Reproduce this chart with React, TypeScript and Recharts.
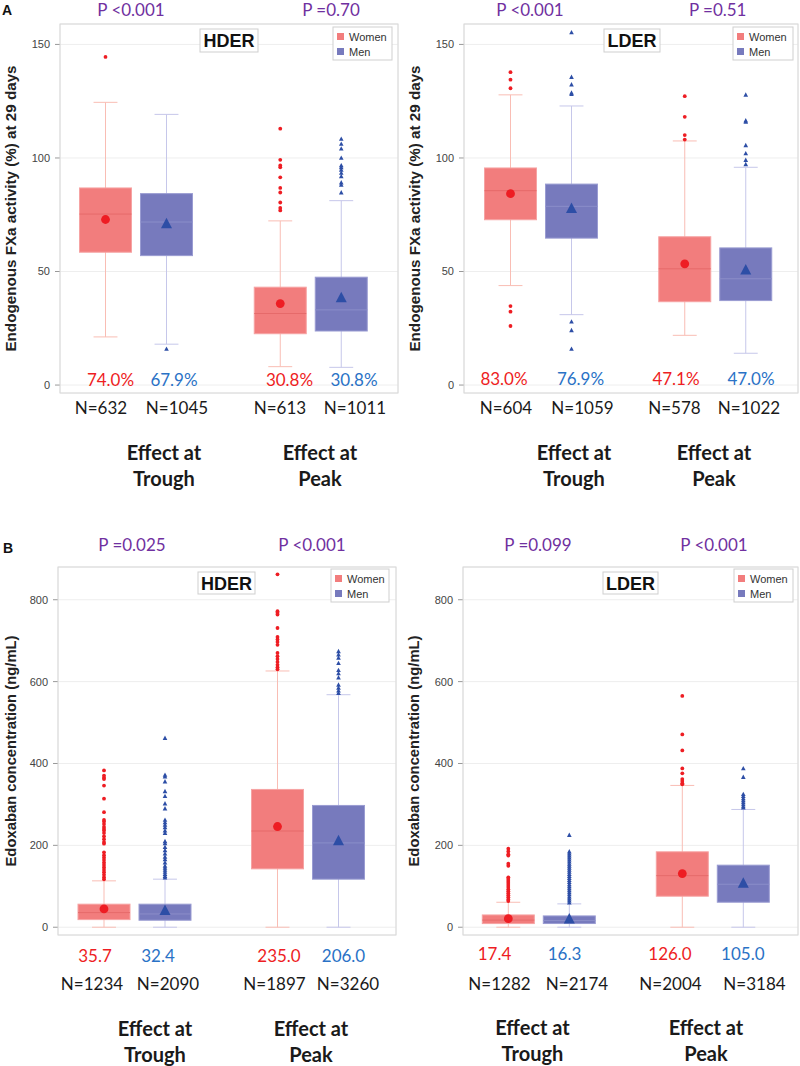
import React from 'react';
import { ComposedChart, Bar, XAxis, YAxis, CartesianGrid } from 'recharts';

const categories = ['Trough', 'Peak'];

// box summaries per category: [low whisker, Q1, median, Q3, high whisker]
const fxaHderWomen = [[21.2, 58.5, 75.3, 86.8, 124.5], [8.1, 22.6, 31.5, 43.1, 72.3]];
const fxaHderMen = [[18.0, 57.0, 71.8, 84.3, 119.2], [7.8, 23.8, 33.1, 47.5, 81.2]];
const fxaHderWomenMean = [72.9, 35.9];
const fxaHderMenMean = [71.0, 38.5];
const fxaHderWomenOut = [[144.5], [112.9, 99.2, 96.7, 95.9, 91.5, 86.8, 84.8, 80.4, 78.0, 76.9]];
const fxaHderMenOut = [[15.9], [108.4, 106.2, 104.1, 100.0, 96.7, 95.9, 94.8, 93.4, 91.9, 89.2, 88.2, 84.8]];

const fxaLderWomen = [[43.8, 72.8, 85.6, 95.6, 127.8], [21.9, 36.7, 51.2, 65.3, 107.5]];
const fxaLderMen = [[31.0, 64.7, 78.7, 88.5, 122.9], [14.0, 37.2, 46.8, 60.4, 95.9]];
const fxaLderWomenMean = [84.3, 53.4];
const fxaLderMenMean = [77.8, 50.7];
const fxaLderWomenOut = [[137.8, 134.5, 130.7, 34.8, 32.3, 26.0], [127.2, 118.1, 110.1, 108.1]];
const fxaLderMenOut = [[155.3, 135.6, 132.3, 128.7, 128.1, 27.9, 24.1, 15.9], [127.8, 116.5, 115.9, 105.6, 102.0, 99.1, 97.2]];

const edoHderWomen = [[0, 18.6, 35.7, 56.3, 113.3], [0, 142.6, 235.0, 336.6, 626]];
const edoHderMen = [[0, 17.1, 32.4, 56.3, 117.4], [0, 117.4, 206.0, 297.5, 568]];
const edoHderWomenMean = [44.8, 246];
const edoHderMenMean = [40.6, 211];
const edoHderWomenOut = [
  [383, 370, 365, 362, 346, 314, 281, 262, 258, 252, 245, 240, 236, 230, 222, 215, 208, 204, 183, 176, 170, 164, 158, 152, 146, 140, 134, 128, 122, 117],
  [862, 772, 768, 764, 731, 709, 703, 697, 690, 670, 662, 655, 648, 641, 635, 630],
];
const edoHderMenOut = [
  [462, 372, 368, 356, 332, 320, 302, 290, 262, 256, 250, 244, 236, 230, 210, 205, 196, 188, 180, 172, 166, 158, 150, 145, 140, 135, 130, 125, 121],
  [674, 666, 658, 645, 628, 620, 610, 592, 585, 578, 572],
];

const edoLderWomen = [[0, 8.9, 17.4, 30, 61], [0, 75.8, 126.0, 184.2, 346.4]];
const edoLderMen = [[0, 9, 16.3, 27.6, 57], [0, 61.1, 105.0, 151.6, 287.7]];
const edoLderWomenMean = [21, 131];
const edoLderMenMean = [20, 107.6];
const edoLderWomenOut = [
  [192, 185, 178, 175, 155, 150, 122, 118, 113, 108, 103, 98, 93, 88, 83, 78, 73, 68, 64],
  [565, 471, 432, 388, 376, 362, 357, 352, 349],
];
const edoLderMenOut = [
  [225, 185, 180, 175, 170, 165, 160, 155, 150, 145, 140, 135, 130, 125, 120, 115, 110, 105, 100, 95, 90, 85, 80, 75, 70, 65, 60],
  [388, 367, 325, 320, 315, 310, 305, 300, 295, 292],
];

const fxaTicks = [0, 50, 100, 150];
const edoTicks = [0, 200, 400, 600, 800];

// labels: women trough, men trough, women peak, men peak
const fxaHderPct = ['74.0%', '67.9%', '30.8%', '30.8%'];
const fxaLderPct = ['83.0%', '76.9%', '47.1%', '47.0%'];
const edoHderMedian = ['35.7', '32.4', '235.0', '206.0'];
const edoLderMedian = ['17.4', '16.3', '126.0', '105.0'];
const fxaHderN = ['N=632', 'N=1045', 'N=613', 'N=1011'];
const fxaLderN = ['N=604', 'N=1059', 'N=578', 'N=1022'];
const edoHderN = ['N=1234', 'N=2090', 'N=1897', 'N=3260'];
const edoLderN = ['N=1282', 'N=2174', 'N=2004', 'N=3184'];
const fxaHderP = ['P <0.001', 'P =0.70'];
const fxaLderP = ['P <0.001', 'P =0.51'];
const edoHderP = ['P =0.025', 'P <0.001'];
const edoLderP = ['P =0.099', 'P <0.001'];

const fxaLabel = 'Endogenous FXa activity (%) at 29 days';
const edoLabel = 'Edoxaban concentration (ng/mL)';

const WOMEN = { box: '#f27d7d', edge: '#f6a3a3', med: '#e66a6a', whisk: '#f9bdb4', dot: '#ee1d23' };
const MEN = { box: '#777abd', edge: '#9a9cd2', med: '#8b8ec9', whisk: '#c6c7ea', dot: '#2d4ea6' };

function buildRows(wS, wMean, wOut, mS, mMean, mOut) {
  return categories.map((cat, i) => ({
    cat,
    w: { s: wS[i], mean: wMean[i], out: wOut[i] },
    m: { s: mS[i], mean: mMean[i], out: mOut[i] },
    wRange: [wS[i][0], wS[i][4]],
    mRange: [mS[i][0], mS[i][4]],
  }));
}

function BoxGlyph(props: any) {
  const { x, y, width, height, payload, sex } = props;
  const d = payload[sex];
  const c = sex === 'w' ? WOMEN : MEN;
  const [lo, q1, med, q3, hi] = d.s;
  const top = height >= 0 ? y : y + height;
  const h = Math.abs(height);
  const py = (v: number) => top + (h * (hi - v)) / (hi - lo);
  const cx = x + width / 2;
  const cap = width * 0.23;
  const tri = (cy: number, s: number) =>
    `${cx},${cy - s * 0.6} ${cx - s * 0.55},${cy + s * 0.45} ${cx + s * 0.55},${cy + s * 0.45}`;
  return (
    <g>
      <line x1={cx} x2={cx} y1={py(hi)} y2={py(lo)} stroke={c.whisk} strokeWidth={1} />
      <line x1={cx - cap} x2={cx + cap} y1={py(hi)} y2={py(hi)} stroke={c.whisk} strokeWidth={1} />
      <line x1={cx - cap} x2={cx + cap} y1={py(lo)} y2={py(lo)} stroke={c.whisk} strokeWidth={1} />
      <rect x={x} y={py(q3)} width={width} height={py(q1) - py(q3)} fill={c.box} stroke={c.edge} strokeWidth={1} />
      <line x1={x} x2={x + width} y1={py(med)} y2={py(med)} stroke={c.med} strokeWidth={1} />
      {d.out.map((v: number, k: number) =>
        sex === 'w' ? (
          <circle key={k} cx={cx} cy={py(v)} r={1.9} fill={c.dot} />
        ) : (
          <polygon key={k} points={tri(py(v), 4.2)} fill={c.dot} />
        )
      )}
      {sex === 'w' ? (
        <circle cx={cx} cy={py(d.mean)} r={4.4} fill={c.dot} />
      ) : (
        <polygon points={tri(py(d.mean), 10)} fill={c.dot} />
      )}
    </g>
  );
}

const panels = [
  {
    id: 'aH', left: 0, top: 0, plot: { l: 60, r: 398, t: 24, b: 393 }, pad: { left: -11.5, right: 0 },
    domain: [-3.5, 159], ticks: fxaTicks, yLabel: fxaLabel, yLabelX: 10, yLabelSize: 15.2,
    rows: buildRows(fxaHderWomen, fxaHderWomenMean, fxaHderWomenOut, fxaHderMen, fxaHderMenMean, fxaHderMenOut),
    title: 'HDER', titleBox: [200, 29, 58, 23], legend: [333, 27, 59, 33],
    p: fxaHderP, pX: [131, 331], pY: 15.5,
    vals: fxaHderPct, valX: [110.5, 174, 289.5, 354], valY: 386,
    ns: fxaHderN, nX: [101, 177, 280, 355], nY: 414,
    effX: [164, 320], effY: 460,
  },
  {
    id: 'aL', left: 400, top: 0, plot: { l: 464, r: 798, t: 24, b: 393 }, pad: { left: -10.5, right: -4 },
    domain: [-3.5, 159], ticks: fxaTicks, yLabel: fxaLabel, yLabelX: 413.5, yLabelSize: 15.2,
    rows: buildRows(fxaLderWomen, fxaLderWomenMean, fxaLderWomenOut, fxaLderMen, fxaLderMenMean, fxaLderMenOut),
    title: 'LDER', titleBox: [604, 29, 56, 23], legend: [733, 27, 60, 33],
    p: fxaLderP, pX: [530, 717.7], pY: 15.5,
    vals: fxaLderPct, valX: [504, 580.5, 676, 751], valY: 385,
    ns: fxaLderN, nX: [506, 582.5, 674.5, 749], nY: 414,
    effX: [574, 714], effY: 460,
  },
  {
    id: 'bH', left: 0, top: 540, plot: { l: 58, r: 396, t: 567, b: 935 }, pad: { left: -10, right: 1 },
    domain: [-19, 880], ticks: edoTicks, yLabel: edoLabel, yLabelX: 10, yLabelSize: 14.8,
    rows: buildRows(edoHderWomen, edoHderWomenMean, edoHderWomenOut, edoHderMen, edoHderMenMean, edoHderMenOut),
    title: 'HDER', titleBox: [198, 572, 57, 22], legend: [331, 569, 58, 33],
    p: edoHderP, pX: [132, 312], pY: 551,
    vals: edoHderMedian, valX: [95, 158, 279, 343.5], valY: 962,
    ns: edoHderN, nX: [92, 168, 274.5, 348], nY: 990,
    effX: [155, 311], effY: 1036,
  },
  {
    id: 'bL', left: 400, top: 540, plot: { l: 463, r: 798, t: 567, b: 935 }, pad: { left: -11.7, right: -1.3 },
    domain: [-19, 880], ticks: edoTicks, yLabel: edoLabel, yLabelX: 413, yLabelSize: 14.8,
    rows: buildRows(edoLderWomen, edoLderWomenMean, edoLderWomenOut, edoLderMen, edoLderMenMean, edoLderMenOut),
    title: 'LDER', titleBox: [603, 572, 55, 22], legend: [734, 569, 59, 33],
    p: edoLderP, pX: [538, 714], pY: 551,
    vals: edoLderMedian, valX: [494.5, 564.5, 670, 742.8], valY: 960,
    ns: edoLderN, nX: [499.5, 577, 670.5, 754.5], nY: 989.5,
    effX: [532.5, 706], effY: 1035,
  },
];

const CAL = 'Lato, "Open Sans", sans-serif';
const ARIAL = '"Liberation Sans", Arial, sans-serif';

function PanelChart({ pn }: any) {
  const W = 400;
  const H = 400;
  return (
    <div style={{ position: 'absolute', left: pn.left, top: pn.top, width: W, height: H }}>
      <ComposedChart
        width={W}
        height={H}
        data={pn.rows}
        barSize={52}
        barGap={9}
        margin={{ top: pn.plot.t - pn.top, bottom: pn.top + H - pn.plot.b, left: 0, right: pn.left + W - pn.plot.r }}
      >
        <CartesianGrid stroke="#eeeeee" />
        <XAxis dataKey="cat" height={0} tick={false} tickLine={false} axisLine={false} padding={pn.pad} />
        <YAxis
          type="number"
          width={pn.plot.l - pn.left}
          domain={pn.domain}
          ticks={pn.ticks}
          allowDataOverflow
          axisLine={false}
          tickSize={5}
          tickMargin={5}
          tickLine={{ stroke: '#999' }}
          tick={{ fontSize: 11, fill: '#444', fontFamily: ARIAL }}
        />
        <Bar dataKey="wRange" isAnimationActive={false} shape={(p: any) => <BoxGlyph {...p} sex="w" />} />
        <Bar dataKey="mRange" isAnimationActive={false} shape={(p: any) => <BoxGlyph {...p} sex="m" />} />
      </ComposedChart>
    </div>
  );
}

function Annotations({ pn }: any) {
  const [tx, ty, tw, th] = pn.titleBox;
  const [lx, ly, lw, lh] = pn.legend;
  const cy = (pn.plot.t + pn.plot.b) / 2;
  const colors = [WOMEN.dot, '#2a72c6', WOMEN.dot, '#2a72c6'];
  return (
    <g>
      <rect x={pn.plot.l} y={pn.plot.t} width={pn.plot.r - pn.plot.l} height={pn.plot.b - pn.plot.t} fill="none" stroke="#d8d8d8" />
      <rect x={tx} y={ty} width={tw} height={th} fill="#fff" stroke="#cfcfcf" />
      <text x={tx + tw / 2} y={ty + th / 2 + 6.5} textAnchor="middle" fontFamily={ARIAL} fontWeight="bold" fontSize={18} fill="#111">
        {pn.title}
      </text>
      <rect x={lx} y={ly} width={lw} height={lh} fill="#fff" stroke="#cfcfcf" />
      <rect x={lx + 4} y={ly + 6} width={7} height={7} fill={WOMEN.box} />
      <text x={lx + 16} y={ly + 14} fontFamily={ARIAL} fontSize={11} fill="#333">Women</text>
      <rect x={lx + 4} y={ly + 21} width={7} height={7} fill={MEN.box} />
      <text x={lx + 16} y={ly + 29} fontFamily={ARIAL} fontSize={11} fill="#333">Men</text>
      <text
        transform={`translate(${pn.yLabelX + 6}, ${cy}) rotate(-90)`}
        textAnchor="middle"
        fontFamily={ARIAL}
        fontWeight="bold"
        fontSize={pn.yLabelSize}
        fill="#222"
      >
        {pn.yLabel}
      </text>
      {pn.p.map((t: string, i: number) => (
        <text key={'p' + i} x={pn.pX[i]} y={pn.pY} textAnchor="middle" fontFamily={CAL} fontSize={17} fill="#7030a0">{t}</text>
      ))}
      {pn.vals.map((t: string, i: number) => (
        <text key={'v' + i} x={pn.valX[i]} y={pn.valY} textAnchor="middle" fontFamily={CAL} fontSize={17} fill={colors[i]}>{t}</text>
      ))}
      {pn.ns.map((t: string, i: number) => (
        <text key={'n' + i} x={pn.nX[i]} y={pn.nY} textAnchor="middle" fontFamily={CAL} fontSize={17} fill="#1a1a1a">{t}</text>
      ))}
      {categories.map((c, i) => (
        <text key={'e' + i} x={pn.effX[i]} y={pn.effY} textAnchor="middle" fontFamily={CAL} fontWeight="bold" fontSize={20} fill="#1a1a1a">
          <tspan x={pn.effX[i]}>Effect at</tspan>
          <tspan x={pn.effX[i]} dy={26}>{c}</tspan>
        </text>
      ))}
    </g>
  );
}

export default function App() {
  return (
    <div style={{ position: 'absolute', left: 0, top: 0, width: 800, height: 1066, background: '#fff', overflow: 'hidden' }}>
      {panels.map((pn) => (
        <PanelChart key={pn.id} pn={pn} />
      ))}
      <svg width={800} height={1066} style={{ position: 'absolute', left: 0, top: 0, pointerEvents: 'none' }}>
        <text x={2} y={15} fontFamily={ARIAL} fontWeight="bold" fontSize={14} fill="#111">A</text>
        <text x={3} y={553} fontFamily={ARIAL} fontWeight="bold" fontSize={14} fill="#111">B</text>
        {panels.map((pn) => (
          <Annotations key={pn.id} pn={pn} />
        ))}
      </svg>
    </div>
  );
}
